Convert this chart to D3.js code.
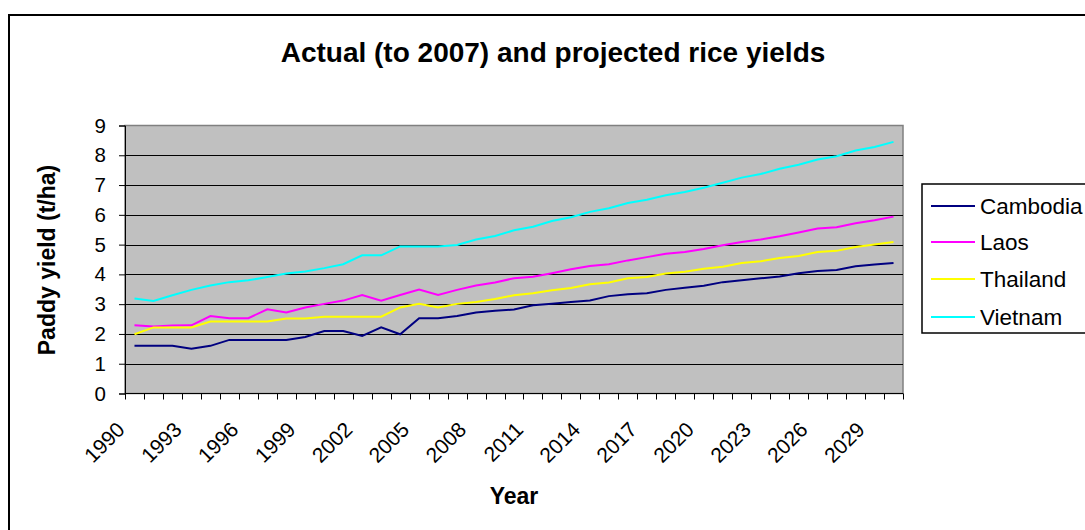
<!DOCTYPE html>
<html>
<head>
<meta charset="utf-8">
<script src="https://cdn.jsdelivr.net/npm/d3@7"></script>
<style>
  html, body { margin: 0; padding: 0; background: #fff; }
  svg { display: block; font-family: "Liberation Sans", Arial, sans-serif; }
</style>
</head>
<body>
<svg id="chart" width="1085" height="530"></svg>
<script>
// Years 1990–2030 (actual to 2007, projected afterwards)
const years = d3.range(1990, 2031);
const yearLabels = ["1990","1993","1996","1999","2002","2005","2008","2011","2014","2017","2020","2023","2026","2029"];
const yTicks = [0,1,2,3,4,5,6,7,8,9];

const cambodia = [1.6,1.6,1.6,1.5,1.6, 1.8,1.8,1.8,1.8,1.9, 2.1,2.1,1.93,2.22,1.99,
  2.53,2.53,2.6,2.72,2.78, 2.82,2.96,3.01,3.07,3.12, 3.27,3.33,3.37,3.48,3.55,
  3.62,3.74,3.80,3.87,3.93, 4.04,4.11,4.15,4.27,4.33, 4.38];
const laos = [2.29,2.25,2.28,2.29,2.60, 2.53,2.53,2.83,2.72,2.89, 3.01,3.12,3.31,3.12,3.31,
  3.49,3.31,3.48,3.63,3.73, 3.87,3.92,4.04,4.17,4.28, 4.34,4.47,4.58,4.69,4.75,
  4.85,4.98,5.09,5.17,5.28, 5.41,5.54,5.58,5.72,5.82, 5.94];
const thailand = [1.99,2.22,2.22,2.22,2.42, 2.42,2.42,2.42,2.52,2.52, 2.58,2.58,2.58,2.58,2.89,
  3.01,2.89,3.01,3.07,3.17, 3.30,3.37,3.47,3.54,3.67, 3.73,3.87,3.91,4.03,4.09,
  4.19,4.26,4.38,4.44,4.55, 4.62,4.75,4.79,4.92,5.00, 5.09];
const vietnam = [3.19,3.11,3.30,3.48,3.63, 3.74,3.80,3.91,4.03,4.10, 4.21,4.34,4.64,4.64,4.94,
  4.94,4.94,4.99,5.17,5.29, 5.48,5.60,5.79,5.92,6.10, 6.22,6.40,6.51,6.66,6.77,
  6.91,7.08,7.25,7.37,7.55, 7.68,7.86,7.97,8.16,8.28, 8.45];

const seriesNames = ["Cambodia","Laos","Thailand","Vietnam"];
const seriesColors = ["#000080","#FF00FF","#FFFF00","#00FFFF"];
const seriesValues = [cambodia, laos, thailand, vietnam];

const svg = d3.select("#chart");
const plot = { left: 125, right: 903, top: 125.5, bottom: 393.5 };

// Chart frame
svg.append("rect")
  .attr("x", 9).attr("y", 15).attr("width", 1200).attr("height", 700)
  .attr("fill", "#fff").attr("stroke", "#000").attr("stroke-width", 2);

const x = d3.scaleBand().domain(years).range([plot.left, plot.right]).padding(0);
const y = d3.scaleLinear().domain([0, 9]).range([plot.bottom, plot.top]);

// Plot area
svg.append("rect")
  .attr("x", plot.left).attr("y", plot.top)
  .attr("width", plot.right - plot.left).attr("height", plot.bottom - plot.top)
  .attr("fill", "#C0C0C0").attr("stroke", "#808080").attr("stroke-width", 1.5);

// Horizontal gridlines
svg.append("g").selectAll("line")
  .data(yTicks.filter(t => t > 0 && t < 9))
  .join("line")
  .attr("x1", plot.left).attr("x2", plot.right)
  .attr("y1", d => Math.round(y(d)) + 0.5).attr("y2", d => Math.round(y(d)) + 0.5)
  .attr("stroke", "#000").attr("stroke-width", 1);

// Y axis
const yAxis = svg.append("g")
  .attr("transform", `translate(${plot.left},0)`)
  .call(d3.axisLeft(y).tickValues(yTicks).tickSize(6).tickPadding(13).tickFormat(d3.format("d")));
yAxis.select(".domain").attr("stroke", "#000");
yAxis.selectAll(".tick line").attr("stroke", "#000");
yAxis.selectAll("text").attr("font-size", 20.5).attr("fill", "#000")
  .attr("font-family", "'Liberation Sans', Arial, sans-serif");

// X axis: ticks at category boundaries
const xg = svg.append("g");
xg.append("line")
  .attr("x1", plot.left).attr("x2", plot.right)
  .attr("y1", plot.bottom).attr("y2", plot.bottom)
  .attr("stroke", "#000").attr("stroke-width", 1);
const boundaries = years.map(yr => x(yr)).concat([x(years[years.length - 1]) + x.bandwidth()]);
xg.selectAll("line.tick")
  .data(boundaries)
  .join("line")
  .attr("class", "tick")
  .attr("x1", d => Math.round(d) + 0.5).attr("x2", d => Math.round(d) + 0.5)
  .attr("y1", plot.bottom).attr("y2", plot.bottom + 6)
  .attr("stroke", "#000");

xg.selectAll("text")
  .data(yearLabels)
  .join("text")
  .attr("transform", d => `translate(${x(+d) + x.bandwidth() / 2 - 8.5},${431}) rotate(-45)`)
  .attr("text-anchor", "end")
  .attr("font-size", 21)
  .attr("fill", "#000")
  .text(d => d);

// Series lines
const line = d3.line()
  .x((d, i) => x(years[i]) + x.bandwidth() / 2)
  .y(d => y(d));

svg.append("g").selectAll("path")
  .data(seriesValues)
  .join("path")
  .attr("d", d => line(d))
  .attr("fill", "none")
  .attr("stroke", (d, i) => seriesColors[i])
  .attr("stroke-width", 2);

// Titles
svg.append("text")
  .attr("x", 553).attr("y", 62)
  .attr("text-anchor", "middle")
  .attr("font-size", 28).attr("font-weight", "bold")
  .text("Actual (to 2007) and projected rice yields");

svg.append("text")
  .attr("x", 514).attr("y", 504)
  .attr("text-anchor", "middle")
  .attr("font-size", 23).attr("font-weight", "bold")
  .text("Year");

svg.append("text")
  .attr("transform", "translate(55,260) rotate(-90)")
  .attr("text-anchor", "middle")
  .attr("font-size", 23).attr("font-weight", "bold")
  .text("Paddy yield (t/ha)");

// Legend
const legend = svg.append("g");
legend.append("rect")
  .attr("x", 922).attr("y", 184).attr("width", 300).attr("height", 149)
  .attr("fill", "#fff").attr("stroke", "#000").attr("stroke-width", 1.5);
const legendY = [206, 242, 279, 317];
const items = legend.selectAll("g.item")
  .data(seriesNames)
  .join("g")
  .attr("class", "item")
  .attr("transform", (d, i) => `translate(0,${legendY[i]})`);
items.append("line")
  .attr("x1", 931).attr("x2", 975).attr("y1", 0).attr("y2", 0)
  .attr("stroke", (d, i) => seriesColors[i]).attr("stroke-width", 2);
items.append("text")
  .attr("x", 980).attr("y", 8)
  .attr("font-size", 22.5)
  .attr("fill", "#000")
  .text(d => d);
</script>
</body>
</html>
